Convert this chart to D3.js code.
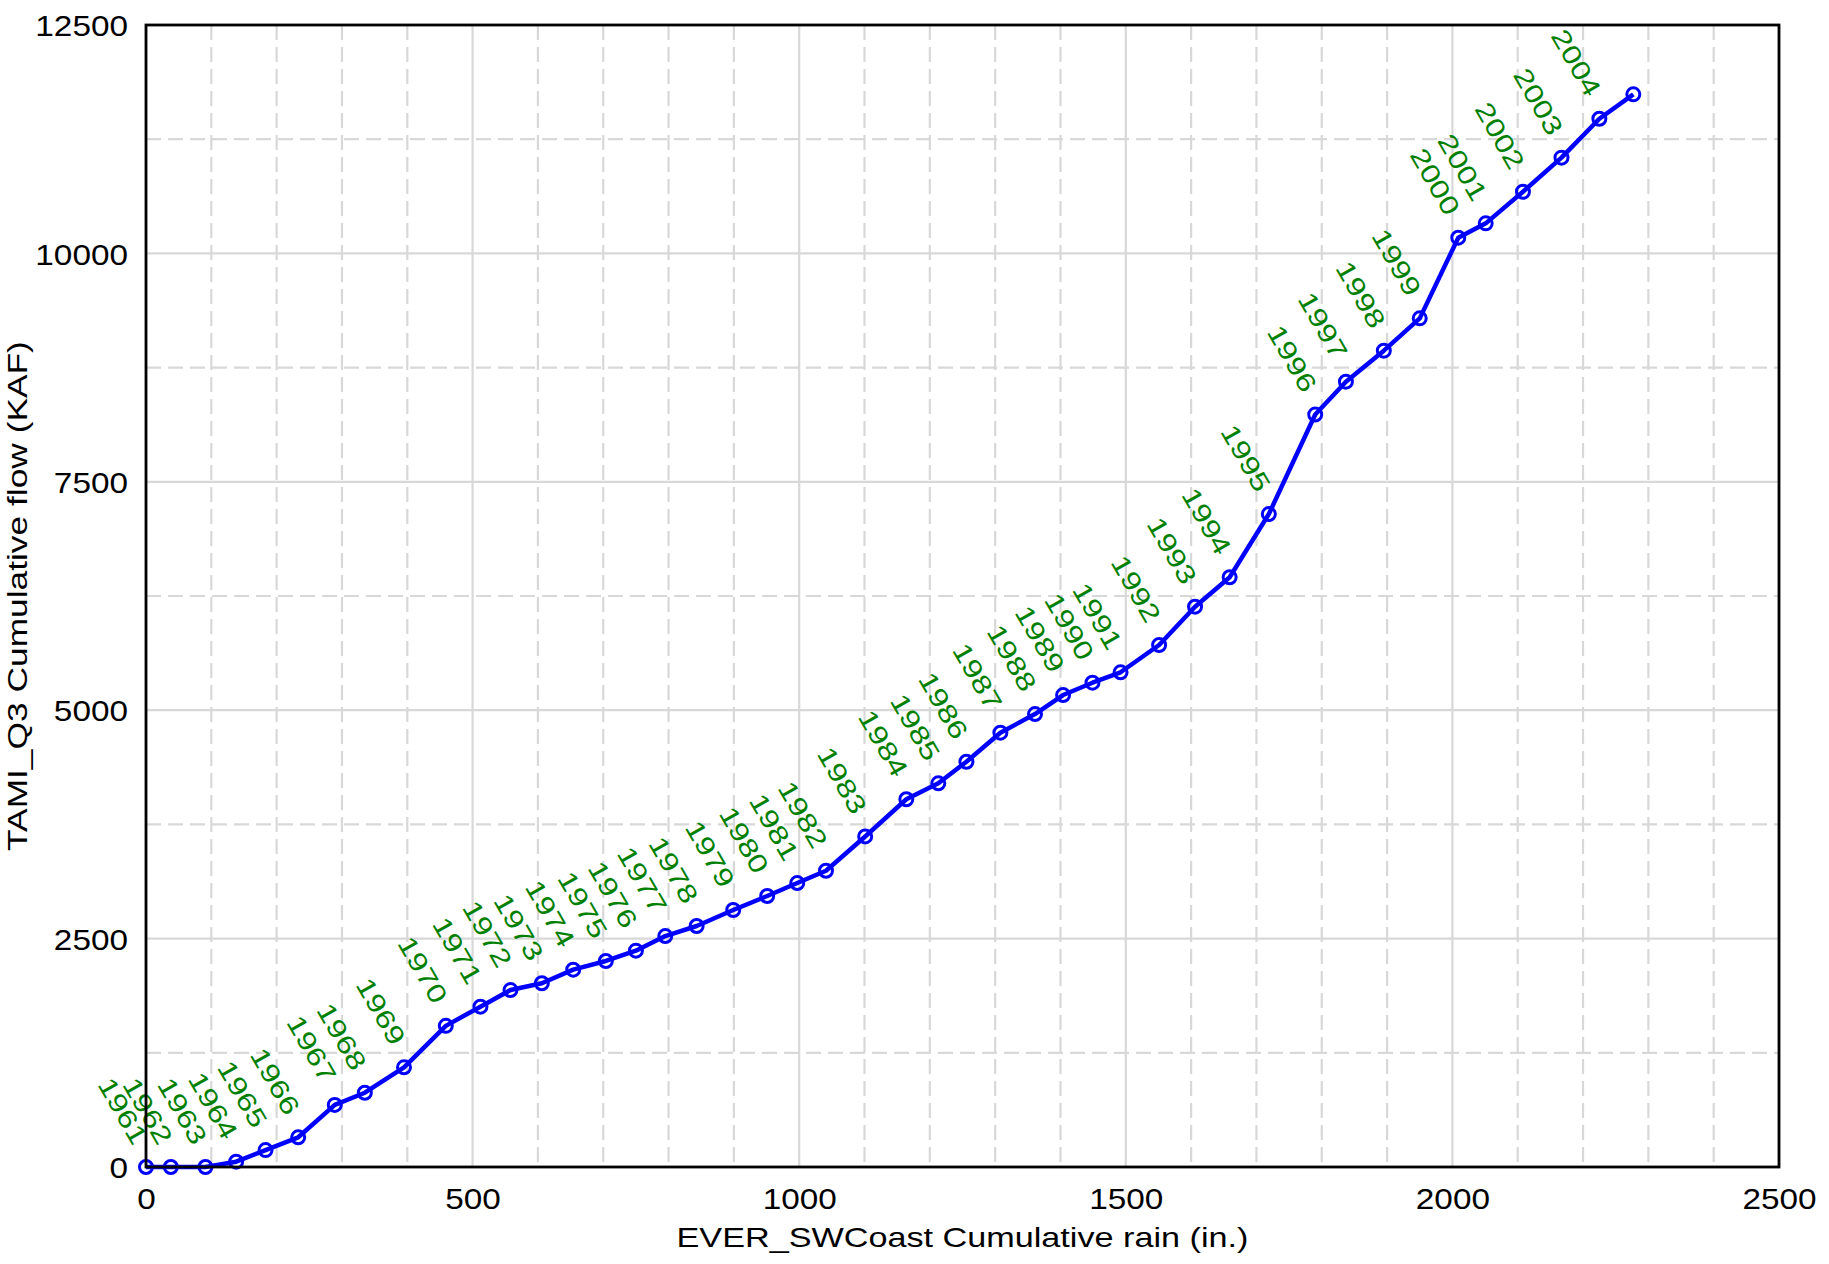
<!DOCTYPE html>
<html><head><meta charset="utf-8">
<script src="https://cdn.jsdelivr.net/npm/d3@7"></script>
<style>html,body{margin:0;padding:0;background:#fff;} svg{display:block;}</style>
</head><body>
<svg id="chart" width="1829" height="1264"></svg>
<script>
// ---- data ----
const years = ["1961","1962","1963","1964","1965","1966","1967","1968","1969","1970",
  "1971","1972","1973","1974","1975","1976","1977","1978","1979","1980",
  "1981","1982","1983","1984","1985","1986","1987","1988","1989","1990",
  "1991","1992","1993","1994","1995","1996","1997","1998","1999","2000",
  "2001","2002","2003","2004",""];
const cumRain = [0,38,91,138,183,233,289,335,395,459,
  512,558,606,654,704,750,795,843,899,951,
  997,1041,1101,1164,1213,1256,1308,1361,1404,1449,
  1492,1551,1606,1659,1719,1790,1837,1895,1950,2009,
  2051,2108,2167,2225,2277];
const cumFlow = [0,0,0,58,185,325,680,813,1091,1545,
  1755,1937,2011,2160,2255,2368,2528,2638,2813,2966,
  3108,3243,3618,4025,4200,4436,4754,4958,5166,5301,
  5415,5714,6133,6455,7147,8236,8596,8935,9289,10172,
  10329,10675,11048,11474,11741];
const xTicks = [0,500,1000,1500,2000,2500];
const yTicks = [0,2500,5000,7500,10000,12500];
const xMinor = [100,200,300,400,600,700,800,900,1100,1200,1300,1400,1600,1700,1800,1900,2100,2200,2300,2400];
const yMinor = [1250,3750,6250,8750,11250];
const xTitle = "EVER_SWCoast Cumulative rain (in.)";
const yTitle = "TAMI_Q3 Cumulative flow (KAF)";

// ---- layout ----
const W = 1829, H = 1264;
const P = {left:146, right:1779, top:25, bottom:1167};
const FONT = "'Liberation Sans', Arial, sans-serif";
const x = d3.scaleLinear().domain([0,2500]).range([P.left,P.right]);
const y = d3.scaleLinear().domain([0,12500]).range([P.bottom,P.top]);

const svg = d3.select("#chart");
svg.append("rect").attr("width",W).attr("height",H).attr("fill","#fff");

const grid = svg.append("g");
grid.selectAll(".xm").data(xMinor).join("line")
  .attr("x1",d=>x(d)).attr("x2",d=>x(d)).attr("y1",P.top).attr("y2",P.bottom)
  .attr("stroke","#d8d8d8").attr("stroke-width",2.2).attr("stroke-dasharray","15,7");
grid.selectAll(".ym").data(yMinor).join("line")
  .attr("y1",d=>y(d)).attr("y2",d=>y(d)).attr("x1",P.left).attr("x2",P.right)
  .attr("stroke","#d8d8d8").attr("stroke-width",2.2).attr("stroke-dasharray","15,7");
grid.selectAll(".xM").data(xTicks).join("line")
  .attr("x1",d=>x(d)).attr("x2",d=>x(d)).attr("y1",P.top).attr("y2",P.bottom)
  .attr("stroke","#d8d8d8").attr("stroke-width",2.2);
grid.selectAll(".yM").data(yTicks).join("line")
  .attr("y1",d=>y(d)).attr("y2",d=>y(d)).attr("x1",P.left).attr("x2",P.right)
  .attr("stroke","#d8d8d8").attr("stroke-width",2.2);

// axes (labels only)
const TS = 29.5, SX = 1.13;
const xAxis = svg.append("g").attr("transform",`translate(0,${P.bottom})`)
  .call(d3.axisBottom(x).tickValues(xTicks).tickSize(0).tickFormat(d3.format("d")));
xAxis.select(".domain").remove();
xAxis.selectAll("text").attr("y",42).attr("dy",null)
  .attr("font-family",FONT).attr("font-size",TS).attr("fill","#000")
  .attr("transform",`scale(${SX},1)`);
const yAxis = svg.append("g").attr("transform",`translate(${P.left},0)`)
  .call(d3.axisLeft(y).tickValues(yTicks).tickSize(0).tickFormat(d3.format("d")));
yAxis.select(".domain").remove();
yAxis.selectAll("text").attr("x",-18/SX).attr("dy","0.36em")
  .attr("font-family",FONT).attr("font-size",TS).attr("fill","#000")
  .attr("transform",`scale(${SX},1)`);

// axis titles
svg.append("text").attr("transform",`translate(${(P.left+P.right)/2},1247) scale(1.2,1)`)
  .attr("text-anchor","middle").attr("font-family",FONT).attr("font-size",28.5)
  .attr("fill","#000").text(xTitle);
svg.append("text").attr("transform",`translate(27,${(P.top+P.bottom)/2}) rotate(-90) scale(1.24,1)`)
  .attr("text-anchor","middle").attr("font-family",FONT).attr("font-size",28.5)
  .attr("fill","#000").text(yTitle);

// series
const pts = cumRain.map((r,i)=>({r, f:cumFlow[i], yr:years[i]}));
svg.append("path").datum(pts)
  .attr("d", d3.line().x(d=>x(d.r)).y(d=>y(d.f)))
  .attr("fill","none").attr("stroke","#0000ff").attr("stroke-width",4.5)
  .attr("stroke-linejoin","round");
svg.selectAll(".pt").data(pts).join("circle")
  .attr("cx",d=>x(d.r)).attr("cy",d=>y(d.f)).attr("r",6.5)
  .attr("fill","none").attr("stroke","#0000ff").attr("stroke-width",3);

// year labels
const LS = 1.25;
svg.selectAll(".yl").data(pts.filter(d=>d.yr!=="")).join("text")
  .attr("transform",d=>`translate(${x(d.r)},${y(d.f)}) rotate(60) scale(${LS},1)`)
  .attr("x",-24/LS).attr("y",1)
  .attr("text-anchor","end").attr("font-family",FONT).attr("font-size",26)
  .attr("fill","#008000").text(d=>d.yr);

// frame
svg.append("rect").attr("x",P.left).attr("y",P.top)
  .attr("width",P.right-P.left).attr("height",P.bottom-P.top)
  .attr("fill","none").attr("stroke","#000").attr("stroke-width",2.8);
</script>
</body></html>
